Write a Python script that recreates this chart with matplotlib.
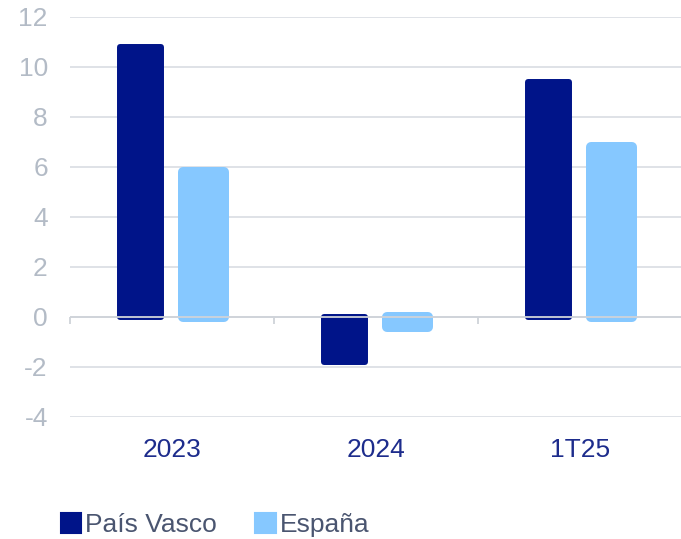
import numpy as np
import matplotlib
matplotlib.use("Agg")
import matplotlib.pyplot as plt
from matplotlib.patches import Patch

# data
categories = ["2023", "2024", "1T25"]
pais_vasco = [10.8, -1.8, 9.4]
espana = [5.8, -0.4, 6.8]
series_names = ["País Vasco", "España"]
y_ticks = [-4, -2, 0, 2, 4, 6, 8, 10, 12]

navy = "#001489"
light = "#86c8ff"
grid_col = "#d9dde3"
ytick_col = "#b3bbc6"
xtick_col = "#1d2c8c"
legend_txt = "#4a5570"

plt.rcParams["font.family"] = ["Liberation Sans", "DejaVu Sans"]

fig = plt.figure(figsize=(6.81, 5.39), dpi=100)
ax = fig.add_axes([70 / 681, 122 / 539, 612 / 681, 400 / 539])

x = np.arange(len(categories))
off = 0.156
w = 0.2

# rounded bars: the same-coloured stroke with round joins rounds the corners
ax.bar(x - off, pais_vasco, width=w, color=navy, edgecolor=navy,
       linewidth=4.3, joinstyle="round", zorder=2)
ax.bar(x + off, espana, width=w, color=light, edgecolor=light,
       linewidth=7.2, joinstyle="round", zorder=2)

ax.set_xlim(-0.5, len(categories) - 0.5)
ax.set_ylim(-4, 12)
ax.set_yticks(y_ticks)
ax.set_yticklabels([str(v) for v in y_ticks])
ax.set_xticks(x)
ax.set_xticklabels(categories)

ax.grid(axis="y", color=grid_col, linewidth=1.2, zorder=0)
ax.set_axisbelow(True)

# zero line on top of the bars, with small ticks between categories
ax.axhline(0, color="#cfd3d9", linewidth=1.3, zorder=3)
bounds = np.arange(len(categories) + 1) - 0.5
ax.vlines(bounds, -0.28, 0, color="#cfd3d9", linewidth=1.3, zorder=3, clip_on=False)

for s in ax.spines.values():
    s.set_visible(False)

ax.tick_params(axis="y", length=0, pad=16, labelsize=19, labelcolor=ytick_col)
ax.tick_params(axis="x", length=0, pad=15, labelsize=19, labelcolor=xtick_col)

handles = [Patch(facecolor=navy, edgecolor=navy, linewidth=1.5, joinstyle="round"),
           Patch(facecolor=light, edgecolor=light, linewidth=1.5, joinstyle="round")]
leg = fig.legend(handles, series_names, loc="lower left", bbox_to_anchor=(50 / 681, -9 / 539),
                 ncol=2, frameon=False, fontsize=19, handlelength=0.78, handleheight=0.78,
                 handletextpad=0.15, columnspacing=1.45, borderaxespad=0)
for t in leg.get_texts():
    t.set_color(legend_txt)

fig.savefig("out.png", dpi=100)
